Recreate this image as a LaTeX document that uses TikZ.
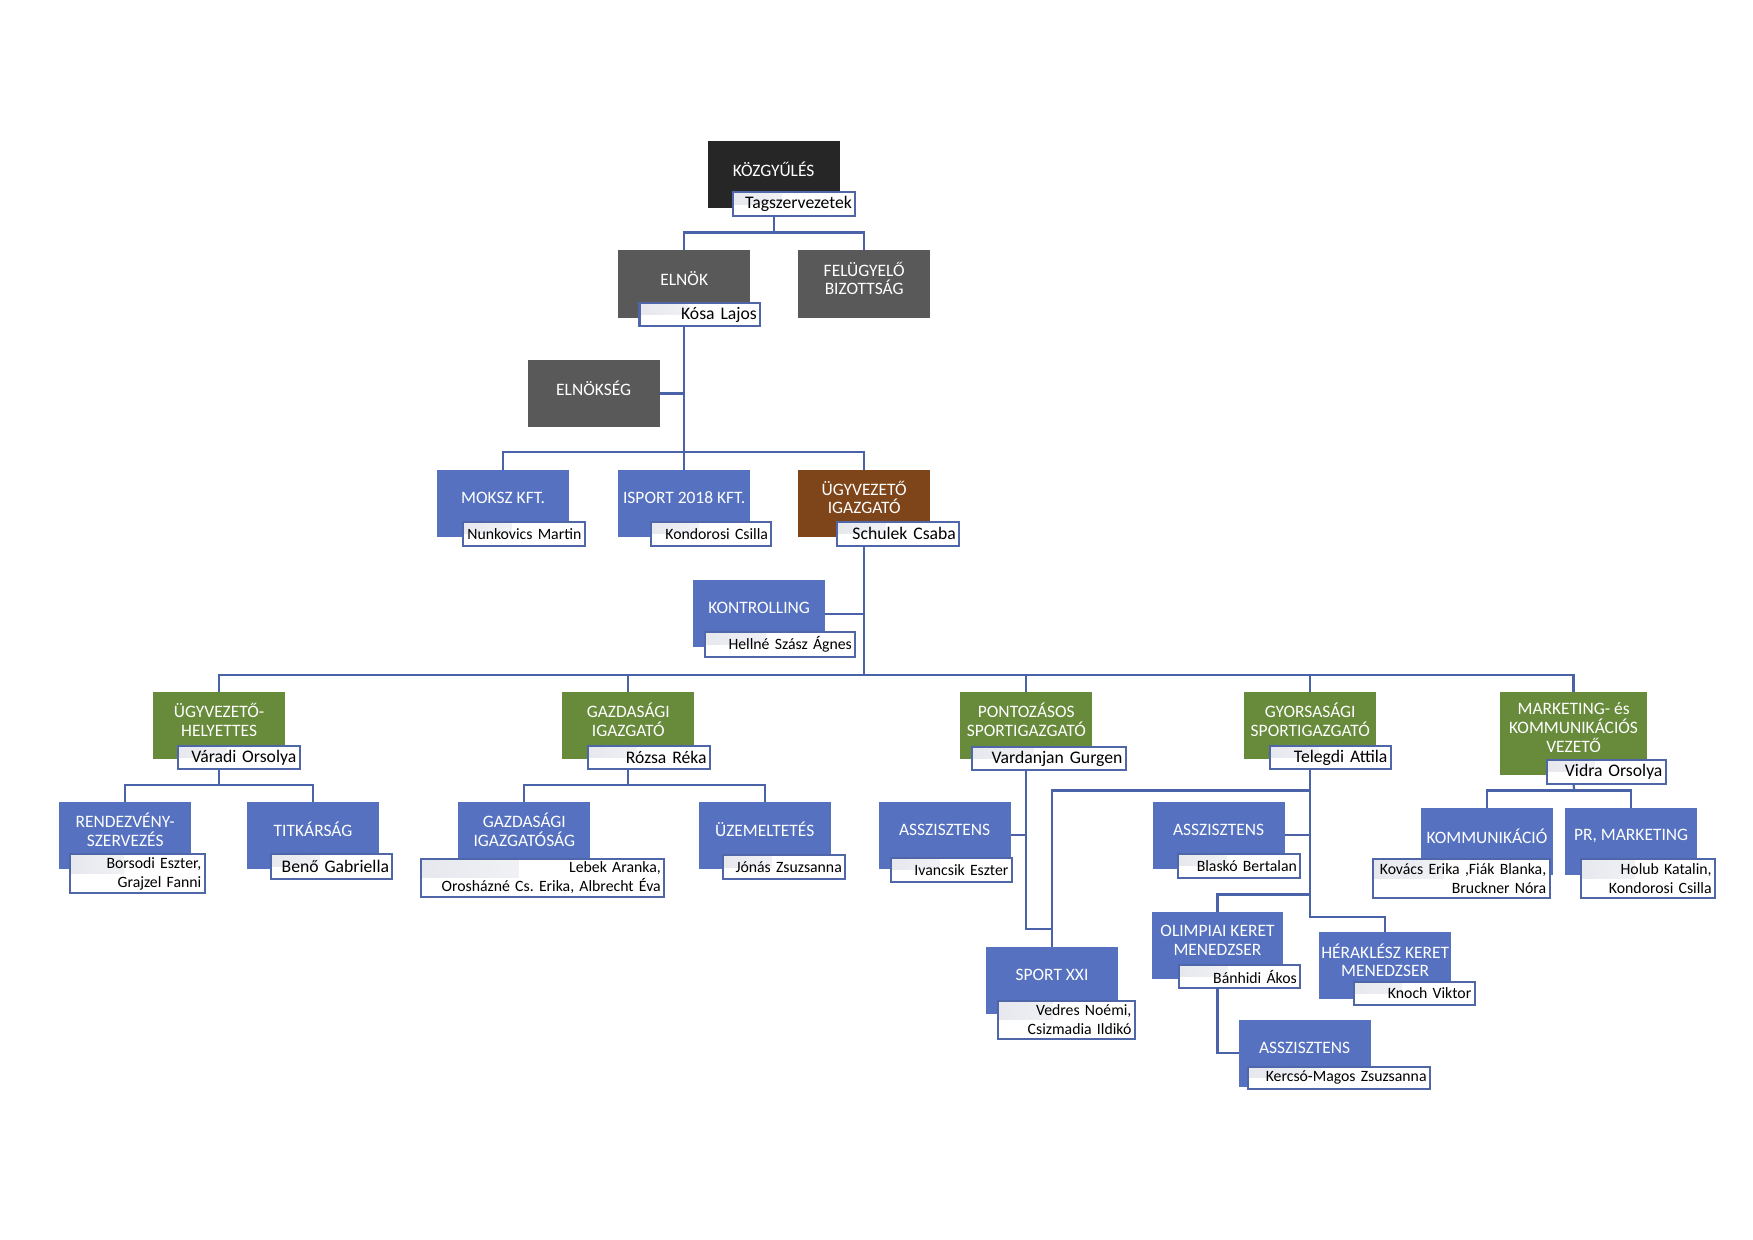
\documentclass[tikz,border=0pt]{standalone}
\usepackage{fontspec}
\setmainfont{Carlito}
\frenchspacing
\usetikzlibrary{calc}
\definecolor{cdark}{HTML}{262626}
\definecolor{cgray}{HTML}{595959}
\definecolor{cblue}{HTML}{5571BF}
\definecolor{cgreen}{HTML}{678A3B}
\definecolor{cbrown}{HTML}{7D4519}
\definecolor{cline}{HTML}{4A63A8}
\definecolor{cborder}{HTML}{4F67A8}
\definecolor{cband}{HTML}{E6E8EE}
\tikzset{
  box/.style={draw=none, inner sep=0pt, outer sep=0pt},
  boxtxt/.style={text=white, font=\fontsize{15.6}{16.8}\selectfont, align=center, inner sep=0pt, yshift=5pt},
  lbl/.style={draw=cborder, line width=1.8pt, fill=white, inner ysep=0pt, inner xsep=3pt, outer sep=0pt,
    align=right, font=\fontsize{15.8}{17}\selectfont,
    path picture={\shade[left color=cband, right color=white] (path picture bounding box.north west) rectangle ($(path picture bounding box.west)!0.4!(path picture bounding box.east)$);}},
  lblsm/.style={font=\fontsize{14.1}{17}\selectfont},
  conn/.style={draw=cline, line width=2pt},
}
\newcommand{\Bx}[7]{\node[box, fill=#6, minimum width=#4-#2, minimum height=#5-#3, anchor=north west,
  label={[boxtxt]center:{#7}}] (#1) at (#2,#3) {};}
\newcommand{\Lab}[7][]{\pgfmathsetmacro\tw{#5-#3-6}\node[lbl,#1, minimum width=#5-#3, minimum height=#6-#4,
  text width=\tw pt, anchor=north west] (#2) at (#3,#4) {#7};}
\begin{document}
\begin{tikzpicture}[x=1pt,y=-1pt]
\fill[white] (0,0) rectangle (1568,1109);
\useasboundingbox (0,0) rectangle (1568,1109);

% level 0-2
\Bx{kozgy}{633}{126}{751}{186}{cdark}{KÖZGYŰLÉS}
\Lab{kozgyL}{656}{172}{765}{193}{Tagszervezetek}
\Bx{elnok}{553}{224}{671}{284}{cgray}{ELNÖK}
\Lab{elnokL}{572}{271}{680}{292}{Kósa Lajos}
\Bx{felugy}{714}{224}{832}{284}{cgray}{FELÜGYELŐ\\BIZOTTSÁG}
\Bx{elnokseg}{472}{322}{590}{382}{cgray}{ELNÖKSÉG}
\Bx{moksz}{391}{420}{509}{480}{cblue}{MOKSZ KFT.}
\Lab[lblsm]{mokszL}{414}{467}{523}{488}{Nunkovics Martin}
\Bx{isport}{553}{420}{671}{480}{cblue}{ISPORT 2018 KFT.}
\Lab[lblsm]{isportL}{582}{467}{690}{488}{Kondorosi Csilla}
\Bx{ugyv}{714}{420}{832}{480}{cbrown}{ÜGYVEZETŐ\\IGAZGATÓ}
\Lab{ugyvL}{749}{467}{858}{488}{Schulek Csaba}
\Bx{kontr}{620}{519}{738}{579}{cblue}{KONTROLLING}
\Lab[lblsm]{kontrL}{631}{565}{765}{588}{Hellné Szász Ágnes}

% level 3
\Bx{hely}{137}{619}{255}{679}{cgreen}{ÜGYVEZETŐ-\\HELYETTES}
\Lab{helyL}{159}{667}{268}{688}{Váradi Orsolya}
\Bx{gazd}{503}{619}{621}{679}{cgreen}{GAZDASÁGI\\IGAZGATÓ}
\Lab{gazdL}{526}{667}{635}{688}{Rózsa Réka}
\Bx{pont}{859}{619}{977}{679}{cgreen}{PONTOZÁSOS\\SPORTIGAZGATÓ}
\Lab{pontL}{869}{668}{1007}{689}{Vardanjan Gurgen}
\Bx{gyors}{1113}{619}{1231}{679}{cgreen}{GYORSASÁGI\\SPORTIGAZGATÓ}
\Lab{gyorsL}{1136}{667}{1244}{688}{Telegdi Attila}
\Bx{mark}{1342}{619}{1473}{693}{cgreen}{MARKETING- és\\KOMMUNIKÁCIÓS\\VEZETŐ}
\Lab{markL}{1384}{680}{1490}{701}{Vidra Orsolya}

% level 4
\Bx{rendez}{53}{717}{171}{777}{cblue}{RENDEZVÉNY-\\SZERVEZÉS}
\Lab[lblsm]{rendezL}{63}{764}{183}{799}{Borsodi Eszter,\\Grajzel Fanni}
\Bx{titk}{221}{717}{339}{777}{cblue}{TITKÁRSÁG}
\Lab{titkL}{242}{764}{351}{786}{Benő Gabriella}
\Bx{gazdig}{410}{717}{528}{777}{cblue}{GAZDASÁGI\\IGAZGATÓSÁG}
\Lab[lblsm]{gazdigL}{377}{768}{594}{802}{Lebek Aranka,\\Orosházné Cs. Erika, Albrecht Éva}
\Bx{uzem}{625}{717}{743}{777}{cblue}{ÜZEMELTETÉS}
\Lab[lblsm]{uzemL}{647}{765}{756}{786}{Jónás Zsuzsanna}
\Bx{assza}{786}{717}{904}{777}{cblue}{ASSZISZTENS}
\Lab[lblsm]{asszaL}{797}{767}{905}{789}{Ivancsik Eszter}
\Bx{asszb}{1031}{717}{1149}{777}{cblue}{ASSZISZTENS}
\Lab[lblsm]{asszbL}{1054}{764}{1163}{785}{Blaskó Bertalan}
\Bx{komm}{1271}{723}{1389}{783}{cblue}{KOMMUNIKÁCIÓ}
\Lab[lblsm]{kommL}{1228}{768}{1386}{803}{Kovács Erika ,Fiák Blanka,\\Bruckner Nóra}
\Bx{pr}{1400}{723}{1518}{783}{cblue}{PR, MARKETING}
\Lab[lblsm]{prL}{1414}{768}{1534}{803}{Holub Katalin,\\Kondorosi Csilla}

% level 5
\Bx{sport}{882}{847}{1000}{907}{cblue}{SPORT XXI}
\Lab[lblsm]{sportL}{893}{895}{1015}{929}{Vedres Noémi,\\Csizmadia Ildikó}
\Bx{olimp}{1030}{816}{1148}{876}{cblue}{OLIMPIAI KERET\\MENEDZSER}
\Lab[lblsm]{olimpL}{1055}{863}{1163}{884}{Bánhidi Ákos}
\Bx{herak}{1180}{834}{1298}{894}{cblue}{HÉRAKLÉSZ KERET\\MENEDZSER}
\Lab[lblsm]{herakL}{1211}{878}{1319}{899}{Knoch Viktor}
\Bx{asszc}{1108}{912}{1226}{972}{cblue}{ASSZISZTENS}
\Lab[lblsm]{asszcL}{1116}{954}{1279}{974}{Kercsó-Magos Zsuzsanna}

% junction coordinates
\coordinate (j1) at (692,208);
\coordinate (j2) at (612,404);
\coordinate (j3) at (773,604);
\coordinate (j4) at (196,702);
\coordinate (j5) at (562,702);
\coordinate (j6) at (941,831);
\coordinate (j7) at (1172,707);
\coordinate (j8) at (1239,820);
\coordinate (j9) at (1172,800);
\coordinate (j10) at (1408,707);

% connectors
\draw[conn] (kozgy.south |- kozgyL.south) -- (j1);
\draw[conn] (elnok.north) |- (j1) -| (felugy.north);
\draw[conn] (elnok.south |- elnokL.south) -- (j2);
\draw[conn] (elnokseg.east) -- (elnokseg.east -| j2);
\draw[conn] (moksz.north) |- (j2) -| (ugyv.north);
\draw[conn] (isport.north) -- (j2);
\draw[conn] (ugyv.south |- ugyvL.south) -- (j3);
\draw[conn] (kontr.east) -- (kontr.east -| j3);
\draw[conn] (hely.north) |- (j3) -| (mark.north);
\draw[conn] (gazd.north) -- (gazd.north |- j3);
\draw[conn] (pont.north) -- (pont.north |- j3);
\draw[conn] (gyors.north) -- (gyors.north |- j3);
\draw[conn] (hely.south |- helyL.south) -- (j4);
\draw[conn] (rendez.north) |- (j4) -| (titk.north);
\draw[conn] (gazd.south |- gazdL.south) -- (j5);
\draw[conn] (gazdig.north) |- (j5) -| (uzem.north);
\draw[conn] (pont.south |- pontL.south) |- (j6) -- (sport.north);
\draw[conn] (assza.east) -- (assza.east -| pont.south);
\draw[conn] (gyors.south |- gyorsL.south) |- (j8) -- (herak.north);
\draw[conn] (sport.north) |- (j7);
\draw[conn] (asszb.east) -- (asszb.east -| gyors.south);
\draw[conn] (olimp.north) |- (j9);
\draw[conn] (olimp.south |- olimpL.south) |- (asszc.west);
\draw[conn] (mark.south |- markL.south) -- (j10);
\draw[conn] (komm.north) |- (j10) -| (pr.north);
\end{tikzpicture}
\end{document}
